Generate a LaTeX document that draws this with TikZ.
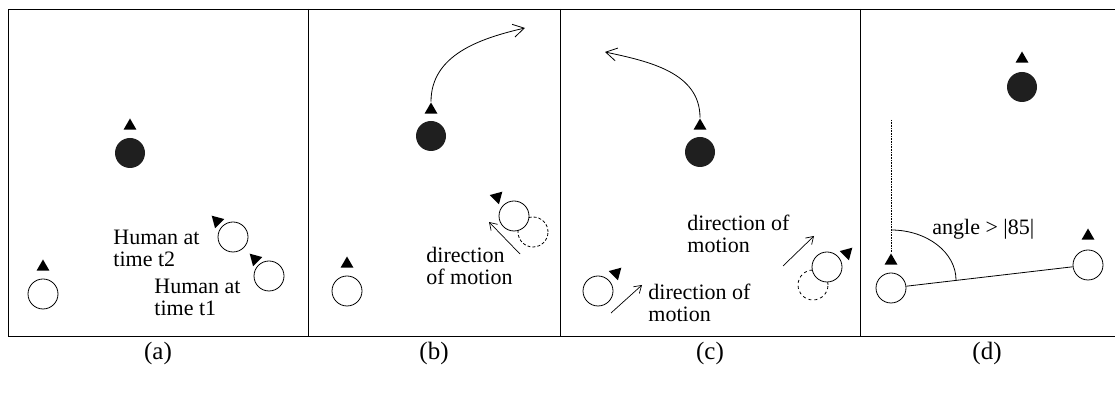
\documentclass[tikz,border=0pt]{standalone}
\usepackage{fontspec}
\setmainfont{Liberation Serif}
\usetikzlibrary{shapes.geometric, arrows.meta}

\tikzset{
  person/.style={draw, circle, fill=white, minimum size=30pt, inner sep=0pt, line width=0.8pt},
  ghost/.style={person, dashed},
  robot/.style={circle, fill=black!88, minimum size=30pt, inner sep=0pt},
  heading/.style={regular polygon, regular polygon sides=3, fill=black, minimum size=15pt, inner sep=0pt},
  lbl/.style={align=left, inner sep=0pt, anchor=base west, font=\fontsize{22}{22}\selectfont},
  turn/.style={-{Straight Barb[length=11pt,width=13pt]}, line width=0.8pt},
  motion/.style={-{Straight Barb[length=7pt,width=9pt]}, line width=0.7pt}
}

\begin{document}
\begin{tikzpicture}[x=1pt, y=1pt, line width=0.8pt]
        \useasboundingbox (0,0) rectangle (1115,395);

        % ===================================================
        % Frame and panel captions
        % ===================================================
        \draw (1116,386) -- (8,386) -- (8,58.5) -- (1116,58.5);
        \foreach \x in {308,560,860}
            \draw (\x,386) -- (\x,58.5);
        \foreach \x/\t in {158/a,434/b,710/c,987/d}
            \node[font=\fontsize{25}{27}\selectfont] (cap\t) at (\x,42) {(\t)};

        % ===================================================
        % (a) Human moving towards the robot
        % ===================================================
        \node[robot] (robotA) at (130,242) {};
        \node[heading] (robotAhead) at (130,269) {};
        \node[person] (humA) at (43,101) {};
        \node[heading] (humAhead) at (43,128) {};
        \node[person] (humAtwo) at (233,158) {};
        \node[heading, rotate=45] (humAtwohead) at (217,174) {};
        \node[person] (humAone) at (269,119) {};
        \node[heading, rotate=45] (humAonehead) at (255,136) {};
        % base anchor sits on the last line
        \node[lbl] (txtAtwo) at (113,128) {Human at\\time t2};
        \node[lbl] (txtAone) at (154,79) {Human at\\time t1};

        % ===================================================
        % (b) Robot turns right
        % ===================================================
        \node[robot] (robotB) at (431,259) {};
        \node[heading] (robotBhead) at (431,285) {};
        \coordinate (turnB) at (525,367);
        \draw[turn] (robotBhead.north) to[out=90, in=193] (turnB);
        \node[person] (humB) at (347,104) {};
        \node[heading] (humBhead) at (347,131) {};
        \node[ghost, densely dashed] (ghostB) at (533,163) {};
        \node[person] (movB) at (514,179) {};
        \node[heading, rotate=195] (movBhead) at (497,198) {};
        \coordinate (motBs) at (520,141);
        \coordinate (motBe) at (489,173);
        \draw[motion] (motBs) -- (motBe);
        \node[lbl] (txtB) at (426,110) {direction\\of motion};

        % ===================================================
        % (c) Robot turns left
        % ===================================================
        \node[robot] (robotC) at (700,243) {};
        \node[heading] (robotChead) at (700,269) {};
        \coordinate (turnC) at (605,343);
        \draw[turn] (robotChead.north) to[out=90, in=-12] (turnC);
        \node[person] (humC) at (598,104) {};
        \node[heading, rotate=-45] (humChead) at (616,122) {};
        \coordinate (motCs) at (611,82);
        \coordinate (motCe) at (642,110);
        \draw[motion] (motCs) -- (motCe);
        \node[lbl] (txtC) at (648,73) {direction of\\motion};
        \node[ghost] (ghostC) at (813,110) {};
        \node[person] (movC) at (827,128) {};
        \node[heading, rotate=-45] (movChead) at (847,142) {};
        \coordinate (motDs) at (783,129);
        \coordinate (motDe) at (814,159);
        \draw[motion] (motDs) -- (motDe);
        \node[lbl] (txtCtwo) at (687,142) {direction of\\motion};

        % ===================================================
        % (d) Angle between two humans
        % ===================================================
        \node[robot] (robotD) at (1022,308) {};
        \node[heading] (robotDhead) at (1022,336) {};
        \node[person] (humDone) at (891,107) {};
        \node[heading] (humDonehead) at (891,134) {};
        \node[person] (humDtwo) at (1088,130) {};
        \node[heading] (humDtwohead) at (1088,159) {};
        \draw (humDone) -- (humDtwo);
        \coordinate (refD) at (891,275);
        \draw[densely dotted, line width=0.6pt] (refD) -- (humDonehead.north);
        \draw (891,165) arc[start angle=90, end angle=0, x radius=65, y radius=50];
        \node[lbl] (txtD) at (932,160) {angle > |85|};

\end{tikzpicture}
\end{document}
